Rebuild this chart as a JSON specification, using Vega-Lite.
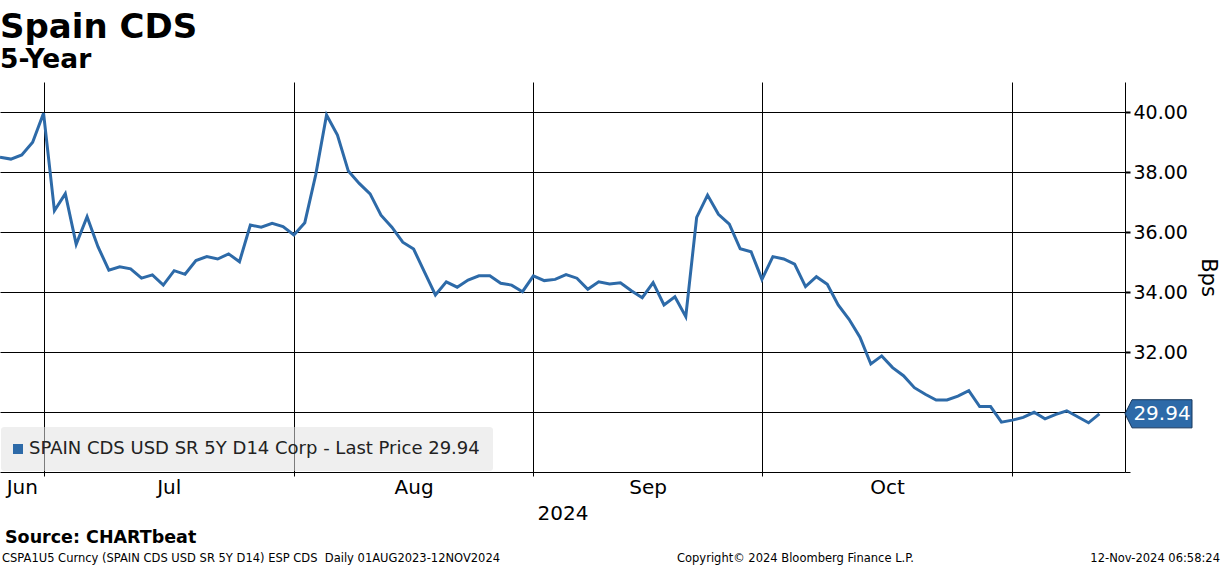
{
  "$schema": "https://vega.github.io/schema/vega-lite/v6.json",
  "width": 1125,
  "height": 390,
  "autosize": {"type": "none"},
  "padding": {"left": 0, "top": 82, "right": 99, "bottom": 94},
  "background": "white",
  "config": {"view": {"stroke": null}, "font": "DejaVu Sans"},
  "title": {
    "text": "Spain CDS",
    "subtitle": "5-Year",
    "anchor": "start",
    "frame": "group",
    "font": "DejaVu Sans",
    "fontSize": 34,
    "fontWeight": "bold",
    "color": "black",
    "subtitleFont": "DejaVu Sans",
    "subtitleFontSize": 26.5,
    "subtitleFontWeight": "bold",
    "subtitleColor": "black",
    "subtitlePadding": 2,
    "offset": 9
  },
  "data": {
    "values": [
      {"day": -4, "bps": 38.49}, {"day": -3, "bps": 38.43}, {"day": -2, "bps": 38.57}, {"day": -1, "bps": 38.99},
      {"day": 0, "bps": 39.96}, {"day": 1, "bps": 36.71}, {"day": 2, "bps": 37.28}, {"day": 3, "bps": 35.59},
      {"day": 4, "bps": 36.51}, {"day": 5, "bps": 35.51}, {"day": 6, "bps": 34.73}, {"day": 7, "bps": 34.84},
      {"day": 8, "bps": 34.77}, {"day": 9, "bps": 34.46}, {"day": 10, "bps": 34.57}, {"day": 11, "bps": 34.23},
      {"day": 12, "bps": 34.71}, {"day": 13, "bps": 34.59}, {"day": 14, "bps": 35.05}, {"day": 15, "bps": 35.18},
      {"day": 16, "bps": 35.10}, {"day": 17, "bps": 35.27}, {"day": 18, "bps": 35.01}, {"day": 19, "bps": 36.23},
      {"day": 20, "bps": 36.16}, {"day": 21, "bps": 36.29}, {"day": 22, "bps": 36.18}, {"day": 23, "bps": 35.90},
      {"day": 24, "bps": 36.31}, {"day": 25, "bps": 37.90}, {"day": 26, "bps": 39.90}, {"day": 27, "bps": 39.23},
      {"day": 28, "bps": 38.03}, {"day": 29, "bps": 37.62}, {"day": 30, "bps": 37.27}, {"day": 31, "bps": 36.56},
      {"day": 32, "bps": 36.16}, {"day": 33, "bps": 35.66}, {"day": 34, "bps": 35.43}, {"day": 35, "bps": 34.66},
      {"day": 36, "bps": 33.90}, {"day": 37, "bps": 34.34}, {"day": 38, "bps": 34.16}, {"day": 39, "bps": 34.40},
      {"day": 40, "bps": 34.54}, {"day": 41, "bps": 34.54}, {"day": 42, "bps": 34.29}, {"day": 43, "bps": 34.23},
      {"day": 44, "bps": 34.01}, {"day": 45, "bps": 34.54}, {"day": 46, "bps": 34.38}, {"day": 47, "bps": 34.42},
      {"day": 48, "bps": 34.58}, {"day": 49, "bps": 34.46}, {"day": 50, "bps": 34.09}, {"day": 51, "bps": 34.34},
      {"day": 52, "bps": 34.27}, {"day": 53, "bps": 34.31}, {"day": 54, "bps": 34.04}, {"day": 55, "bps": 33.81},
      {"day": 56, "bps": 34.31}, {"day": 57, "bps": 33.57}, {"day": 58, "bps": 33.84}, {"day": 59, "bps": 33.18},
      {"day": 60, "bps": 36.49}, {"day": 61, "bps": 37.23}, {"day": 62, "bps": 36.59}, {"day": 63, "bps": 36.26},
      {"day": 64, "bps": 35.44}, {"day": 65, "bps": 35.34}, {"day": 66, "bps": 34.42}, {"day": 67, "bps": 35.18},
      {"day": 68, "bps": 35.10}, {"day": 69, "bps": 34.93}, {"day": 70, "bps": 34.18}, {"day": 71, "bps": 34.51},
      {"day": 72, "bps": 34.26}, {"day": 73, "bps": 33.57}, {"day": 74, "bps": 33.09}, {"day": 75, "bps": 32.49},
      {"day": 76, "bps": 31.60}, {"day": 77, "bps": 31.87}, {"day": 78, "bps": 31.48}, {"day": 79, "bps": 31.21},
      {"day": 80, "bps": 30.81}, {"day": 81, "bps": 30.59}, {"day": 82, "bps": 30.40}, {"day": 83, "bps": 30.40},
      {"day": 84, "bps": 30.53}, {"day": 85, "bps": 30.71}, {"day": 86, "bps": 30.18}, {"day": 87, "bps": 30.18},
      {"day": 88, "bps": 29.66}, {"day": 89, "bps": 29.73}, {"day": 90, "bps": 29.82}, {"day": 91, "bps": 29.99},
      {"day": 92, "bps": 29.77}, {"day": 93, "bps": 29.92}, {"day": 94, "bps": 30.04}, {"day": 95, "bps": 29.84},
      {"day": 96, "bps": 29.64}, {"day": 97, "bps": 29.94}
    ]
  },
  "layer": [
    {
      "mark": {"type": "line", "strokeWidth": 3, "clip": true},
      "encoding": {
        "x": {
          "field": "day",
          "type": "quantitative",
          "scale": {"domain": [-4, 99.35], "nice": false, "zero": false},
          "axis": {
            "values": [-2, 0, 11.5, 23, 34, 45, 55.5, 66, 77.5, 89],
            "labelExpr": "datum.value == -2 ? 'Jun' : datum.value == 11.5 ? 'Jul' : datum.value == 34 ? 'Aug' : datum.value == 55.5 ? 'Sep' : datum.value == 77.5 ? 'Oct' : ''",
            "grid": true,
            "gridColor": "black",
            "gridWidth": 1,
            "gridOpacity": {"condition": {"test": "datum.value == 0 || datum.value == 23 || datum.value == 45 || datum.value == 66 || datum.value == 89", "value": 1}, "value": 0},
            "ticks": true,
            "tickSize": 4,
            "tickColor": "black",
            "tickOpacity": {"condition": {"test": "datum.value == 0 || datum.value == 23 || datum.value == 45 || datum.value == 66 || datum.value == 89", "value": 1}, "value": 0},
            "domainColor": "black",
            "domainWidth": 1,
            "labelFont": "DejaVu Sans",
            "labelFontSize": 20,
            "labelColor": "black",
            "labelPadding": 1,
            "labelOverlap": false,
            "labelFlush": false,
            "labelBound": false,
            "title": "2024",
            "titleFont": "DejaVu Sans",
            "titleFontSize": 20,
            "titleFontWeight": "normal",
            "titleColor": "black",
            "titlePadding": 6
          }
        },
        "y": {
          "field": "bps",
          "type": "quantitative",
          "title": "Bps",
          "scale": {"domain": [28, 41], "nice": false, "zero": false},
          "axis": {
            "orient": "right",
            "values": [28, 29, 30, 31, 32, 33, 34, 35, 36, 37, 38, 39, 40, 41],
            "labelExpr": "datum.value >= 32 && datum.value <= 40 && datum.value % 2 == 0 ? format(datum.value, '.2f') : ''",
            "grid": true,
            "gridColor": "black",
            "gridWidth": 1,
            "gridOpacity": {"condition": {"test": "datum.value >= 30 && datum.value <= 40 && datum.value % 2 == 0", "value": 1}, "value": 0},
            "tickSize": 5,
            "tickColor": "black",
            "tickWidth": {"condition": {"test": "datum.value >= 30 && datum.value <= 40 && datum.value % 2 == 0", "value": 2}, "value": 1},
            "domainColor": "black",
            "domainWidth": 1,
            "labelFont": "DejaVu Sans",
            "labelFontSize": 19,
            "labelColor": "black",
            "labelPadding": 3,
            "labelOverlap": false,
            "labelFlush": false,
            "labelBound": false,
            "titleFont": "DejaVu Sans",
            "titleFontSize": 21,
            "titleFontWeight": "normal",
            "titleColor": "black",
            "titlePadding": 10
          }
        },
        "color": {
          "datum": "SPAIN CDS USD SR 5Y D14 Corp - Last Price 29.94",
          "type": "nominal",
          "scale": {"range": ["#2d6aa8"]},
          "legend": {
            "title": null,
            "orient": "bottom-left",
            "offset": 1,
            "padding": 13,
            "fillColor": "rgba(225,225,225,0.55)",
            "cornerRadius": 3,
            "symbolType": "square",
            "symbolSize": 100,
            "symbolOffset": -5,
            "labelFont": "DejaVu Sans",
            "labelFontSize": 18,
            "labelColor": "#222222",
            "labelLimit": 0,
            "labelOffset": 2,
            "encode": {"symbols": {"update": {"fill": {"value": "#2d6aa8"}, "stroke": {"value": "#2d6aa8"}, "strokeWidth": {"value": 0}}}}
          }
        }
      }
    },
    {
      "transform": [{"filter": "datum.day == 97"}],
      "mark": {"type": "point", "shape": "M0,0L0.21,-0.42L2,-0.42L2,0.42L0.21,0.42Z", "size": 4489, "filled": true, "fill": "#2d6aa8", "stroke": "#16365c", "strokeWidth": 1, "opacity": 1},
      "encoding": {
        "x": {"value": "width"},
        "y": {"field": "bps", "type": "quantitative", "title": "Bps"}
      }
    },
    {
      "transform": [{"filter": "datum.day == 97"}],
      "mark": {"type": "text", "color": "white", "font": "DejaVu Sans", "fontSize": 20, "align": "center", "baseline": "middle", "dx": 37},
      "encoding": {
        "x": {"value": "width"},
        "y": {"field": "bps", "type": "quantitative", "title": "Bps"},
        "text": {"field": "bps", "type": "quantitative", "format": ".2f"}
      }
    },
    {
      "data": {"values": [{}]},
      "mark": {"type": "text", "text": "Source: CHARTbeat", "font": "DejaVu Sans", "fontWeight": "bold", "fontSize": 17.5, "align": "left", "baseline": "alphabetic", "color": "black"},
      "encoding": {"x": {"value": 5}, "y": {"value": 461}}
    },
    {
      "data": {"values": [{}]},
      "mark": {"type": "text", "text": "CSPA1U5 Curncy (SPAIN CDS USD SR 5Y D14) ESP CDS \u00a0Daily 01AUG2023-12NOV2024", "font": "DejaVu Sans", "fontSize": 11.5, "align": "left", "baseline": "alphabetic", "color": "black"},
      "encoding": {"x": {"value": 2}, "y": {"value": 480}}
    },
    {
      "data": {"values": [{}]},
      "mark": {"type": "text", "text": "Copyright© 2024 Bloomberg Finance L.P.", "font": "DejaVu Sans", "fontSize": 11.5, "align": "left", "baseline": "alphabetic", "color": "black"},
      "encoding": {"x": {"value": 677}, "y": {"value": 480}}
    },
    {
      "data": {"values": [{}]},
      "mark": {"type": "text", "text": "12-Nov-2024 06:58:24", "font": "DejaVu Sans", "fontSize": 11.5, "align": "right", "baseline": "alphabetic", "color": "black"},
      "encoding": {"x": {"value": 1220}, "y": {"value": 480}}
    }
  ]
}
